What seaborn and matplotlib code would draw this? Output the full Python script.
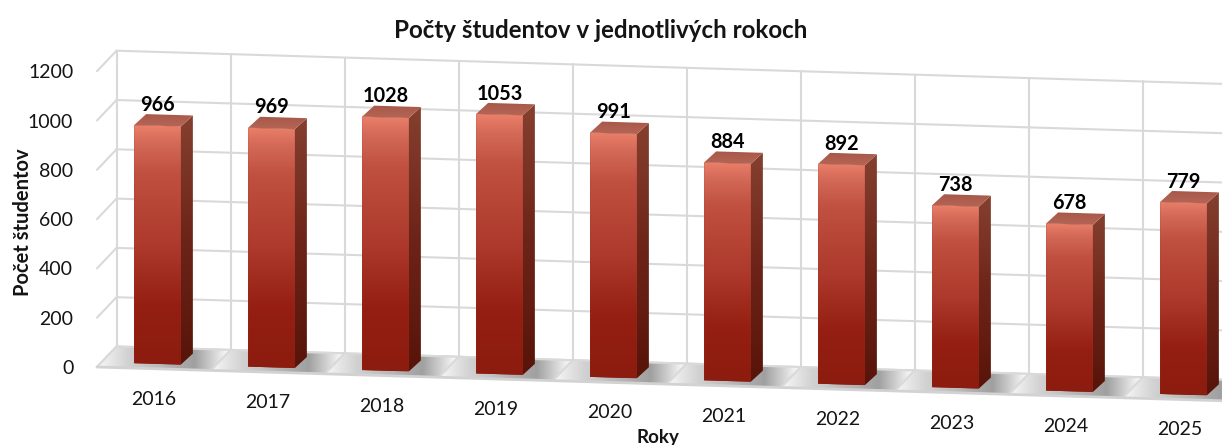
import numpy as np
import matplotlib
matplotlib.use("Agg")
import matplotlib.pyplot as plt
import seaborn as sns
from matplotlib.colors import LinearSegmentedColormap as LSC
from matplotlib.lines import Line2D
from matplotlib.patches import Polygon
from matplotlib.transforms import Affine2D, IdentityTransform

years = ["2016", "2017", "2018", "2019", "2020", "2021", "2022", "2023", "2024", "2025"]
students = [966, 969, 1028, 1053, 991, 884, 892, 738, 678, 779]
y_ticks = [0, 200, 400, 600, 800, 1000, 1200]
title = "Počty študentov v jednotlivých rokoch"
x_title = "Roky"
y_title = "Počet študentov"

W, H = 1222, 445
sns.set_theme(style="white")
plt.rcParams["font.family"] = ["Lato", "DejaVu Sans"]
INK = "#141414"
GRID = "#d9d9d9"

fig = plt.figure(figsize=(W / 100, H / 100), dpi=100, facecolor="white")
AX_L, AX_B = 83, 389
ax = fig.add_axes([AX_L / W, (H - AX_B) / H, (W - AX_L) / W, AX_B / H])

sns.barplot(x=years, y=students, width=0.41, color="#8f1d10", saturation=1, ax=ax, zorder=3)
bars = list(ax.patches)

# scales of the axes: 114 px per category, 0.2465 px per student
XLIM = ((AX_L - 154) / 114, (W - 154) / 114)
YLIM = ((367 - AX_B) / 0.2465, 367 / 0.2465)
ax.set_xlim(*XLIM)
ax.set_ylim(*YLIM)
ax.set_yticks(y_ticks)

# oblique look: the whole chart floor falls to the right, depth goes up-right
SLOPE = 0.03
shear = Affine2D(np.array([[1, 0, 0], [-SLOPE, 1, SLOPE * 97], [0, 0, 1]], dtype=float))
front_plane = ax.transData + shear
bar_plane = front_plane + Affine2D().translate(3.5, 4.8)
back_plane = front_plane + Affine2D().translate(19.5, 20.5)
DEPTH = np.array([12.0, 11.0])
identity = IdentityTransform()


def line(p, q, z=1, lw=1.5, c=GRID):
    ax.add_line(Line2D([p[0], q[0]], [p[1], q[1]], transform=identity, color=c, lw=lw, zorder=z, clip_on=False))


def gradient(verts, cmap, z, horizontal=False):
    verts = np.asarray(verts)
    x0, y0 = verts.min(axis=0)
    x1, y1 = verts.max(axis=0)
    ramp = np.linspace(0, 1, 256)[None, :] if horizontal else np.linspace(0, 1, 256)[:, None]
    im = ax.imshow(ramp, cmap=cmap, vmin=0, vmax=1, extent=(x0, x1, y0, y1), origin="upper",
                   aspect="auto", transform=identity, zorder=z, interpolation="bilinear")
    poly = Polygon(verts, closed=True, transform=identity, fc="none", ec="none")
    ax.add_patch(poly)
    poly.set_clip_on(False)
    im.set_clip_path(poly)
    im.set_clip_box(fig.bbox)
    return im


front_cmap = LSC.from_list("front", [(0, "#ea8069"), (0.07, "#d46a58"), (0.2, "#c05040"), (0.5, "#ad3a2c"), (0.75, "#941f12"), (1, "#8c1c0f")])
side_cmap = LSC.from_list("side", [(0, "#85402f"), (0.5, "#6d2418"), (1, "#581409")])
top_cmap = LSC.from_list("top", [(0, "#a65848"), (1, "#b56555")])
floor_cmap = LSC.from_list("floor", [(0, "#f8f8f8"), (0.23, "#d2d2d2"), (0.73, "#a0a0a0"), (0.96, "#f4f4f4"), (1, "#fafafa")])

# back wall
x_edges = np.arange(-0.5, 10.5)
pt = lambda x, v, plane: plane.transform((x, v))
for v in y_ticks:
    line(pt(-0.5, v, back_plane), pt(XLIM[1], v, back_plane))
    line(pt(-0.5, v, front_plane), pt(-0.5, v, back_plane))
for x in x_edges:
    line(pt(x, 0, back_plane), pt(x, y_ticks[-1], back_plane))

# floor
for x in x_edges:
    cell = [pt(x, 0, front_plane), pt(x + 1, 0, front_plane), pt(x + 1, 0, back_plane), pt(x, 0, back_plane)]
    gradient(cell, floor_cmap, 1.5, horizontal=True)
    line(pt(x, 0, front_plane), pt(x, 0, back_plane), z=1.6)
line(pt(-0.5, 0, front_plane), pt(XLIM[1], 0, front_plane), z=1.6, lw=2, c="#d2d2d2")
line(pt(-0.5, 0, back_plane), pt(XLIM[1], 0, back_plane), z=1.6)

# bars: take seaborn's rectangles and give them their faces
for bar, val in zip(bars, students):
    bar.set_transform(bar_plane)
    bar.set_clip_on(False)
    bar.set_linewidth(0)
    bar.set_edgecolor("none")
    corners = bar.get_transform().transform([(0, 0), (1, 0), (1, 1), (0, 1)])
    bl, br, tr, tl = corners
    gradient(corners, front_cmap, 3.1)
    gradient([br, br + DEPTH, tr + DEPTH, tr], side_cmap, 3.1)
    gradient([tl, tr, tr + DEPTH, tl + DEPTH], top_cmap, 3.1)
    c = (tl + tr) / 2
    ax.text(c[0], c[1] + 21, str(val), transform=identity, ha="center", va="center",
            fontsize=14.3, fontweight="bold", color="black", zorder=5, clip_on=False)

ax.set_xlim(*XLIM)
ax.set_ylim(*YLIM)

# axis text
ax.tick_params(axis="both", length=0, labelsize=14, labelcolor=INK)
ax.tick_params(axis="y", pad=7)
ax.tick_params(axis="x", pad=0)
for tick in ax.xaxis.get_major_ticks():
    tick.label1.set_transform(tick.label1.get_transform() + shear)
ax.set_xlabel(x_title, fontsize=13.5, fontweight="bold", color=INK, va="center")
ax.xaxis.set_label_coords((658 - AX_L) / (W - AX_L), (AX_B - 437) / AX_B)
ax.set_ylabel(y_title, fontsize=14.5, fontweight="bold", color=INK, va="center", ha="center")
ax.yaxis.set_label_coords((23 - AX_L) / (W - AX_L), (AX_B - 222) / AX_B)
fig.text(601 / W, 1 - 30 / H, title, ha="center", va="center", fontsize=17.4, fontweight="bold", color=INK)

for s in ax.spines.values():
    s.set_visible(False)
ax.set_facecolor("none")
ax.grid(False)

fig.savefig("out.png", dpi=100)
